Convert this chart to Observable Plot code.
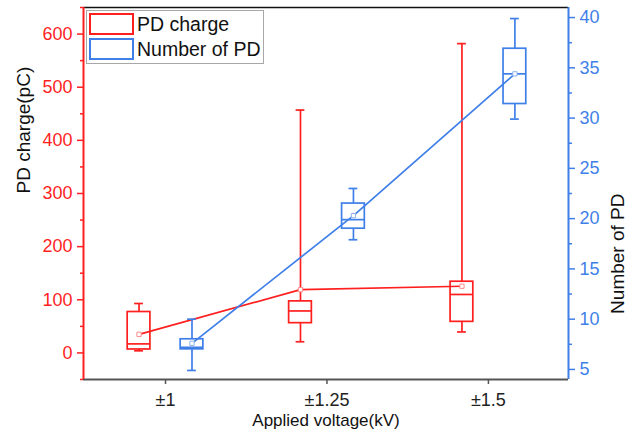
<!DOCTYPE html>
<html><head><meta charset="utf-8">
<script src="https://cdn.jsdelivr.net/npm/d3@7"></script>
<script src="https://cdn.jsdelivr.net/npm/@observablehq/plot@0.6"></script>
<style>
body{margin:0;background:#fff;font-family:"Liberation Sans",Arial,sans-serif}
#wrap{position:relative;width:641px;height:438px;overflow:hidden}
#legend{position:absolute;left:86px;top:10px;width:176px;height:52px;border:1px solid #a8a8a8;background:transparent}
.item{position:absolute;left:2px;height:22px;display:flex;align-items:center}
.sw{width:41px;height:18px;border:2px solid;box-sizing:content-box}
.lab{margin-left:3px;font-size:19.5px;color:#111;line-height:22px;white-space:nowrap}
</style></head><body>
<div id="wrap"><div id="legend"></div></div>
<script>
const voltages = [1, 1.25, 1.5];
const voltageLabels = ["±1", "±1.25", "±1.5"];
const seriesNames = ["PD charge", "Number of PD"];

// PD charge (pC), left axis
const chargeMin = [4, 21, 39.5];
const chargeQ1 = [6.5, 56, 58.5];
const chargeMedian = [17, 79, 110];
const chargeQ3 = [77, 97, 134];
const chargeMax = [93, 457, 582];
const chargeMean = [35, 119, 125.5];

// Number of PD, right axis
const countMin = [4.9, 17.9, 29.9];
const countQ1 = [7, 19, 31.4];
const countMedian = [7.2, 19.9, 34.4];
const countQ3 = [8, 21.5, 36.9];
const countMax = [10, 23, 39.9];
const countMean = [7.6, 20.3, 34.4];

const leftTicks = [0, 100, 200, 300, 400, 500, 600];
const leftMinor = [-50, 50, 150, 250, 350, 450, 550, 650];
const rightTicks = [5, 10, 15, 20, 25, 30, 35, 40];
const rightMinor = [7.5, 12.5, 17.5, 22.5, 27.5, 32.5, 37.5];

const RED = "#ff1f1f", RED_MEAN = "#ff8a8a";
const BLUE = "#3f7fe8", BLUE_MEAN = "#8fb2f0";
const X0 = 0.873, X1 = 1.624, Y0 = -50, Y1 = 650, R0 = 4, R1 = 41;
const toLeft = v => Y0 + (v - R0) * (Y1 - Y0) / (R1 - R0);
const fromLeft = y => R0 + (y - Y0) * (R1 - R0) / (Y1 - Y0);
const OFF = 0.041, HW = 0.0176, CW = 0.0068;

const charge = voltages.map((v, i) => ({x: v - OFF, min: chargeMin[i], q1: chargeQ1[i], median: chargeMedian[i], q3: chargeQ3[i], max: chargeMax[i], mean: chargeMean[i]}));
const count = voltages.map((v, i) => ({x: v + OFF, min: toLeft(countMin[i]), q1: toLeft(countQ1[i]), median: toLeft(countMedian[i]), q3: toLeft(countQ3[i]), max: toLeft(countMax[i]), mean: toLeft(countMean[i])}));

function boxMarks(rows, color, meanColor) {
  const sw = 1.7;
  return [
    Plot.ruleX(rows, {x: "x", y1: "min", y2: "q1", stroke: color, strokeWidth: sw}),
    Plot.ruleX(rows, {x: "x", y1: "q3", y2: "max", stroke: color, strokeWidth: sw}),
    Plot.ruleY(rows, {y: "min", x1: d => d.x - CW, x2: d => d.x + CW, stroke: color, strokeWidth: sw}),
    Plot.ruleY(rows, {y: "max", x1: d => d.x - CW, x2: d => d.x + CW, stroke: color, strokeWidth: sw}),
    Plot.rect(rows, {x1: d => d.x - HW, x2: d => d.x + HW, y1: "q1", y2: "q3", fill: "none", stroke: color, strokeWidth: sw}),
    Plot.ruleY(rows, {y: "median", x1: d => d.x - HW, x2: d => d.x + HW, stroke: color, strokeWidth: sw}),
    Plot.line(rows, {x: "x", y: "mean", stroke: color, strokeWidth: 1.7}),
    Plot.dot(rows, {x: "x", y: "mean", symbol: "square", r: 2.4, stroke: meanColor, fill: "white", strokeWidth: 1})
  ];
}

const chart = Plot.plot({
  width: 641, height: 438,
  marginLeft: 83, marginRight: 73, marginTop: 7, marginBottom: 59,
  style: {fontFamily: '"Liberation Sans", Arial, sans-serif', background: "white", overflow: "visible"},
  x: {domain: [X0, X1]},
  y: {domain: [Y0, Y1]},
  marks: [
    Plot.axisY(leftTicks, {anchor: "left", tickSize: 6, tickPadding: 5, color: RED, fontSize: 18, strokeWidth: 1.5, label: null}),
    Plot.axisY(leftMinor, {anchor: "left", tickSize: 3, color: RED, fill: "none", strokeWidth: 1.5, label: null}),
    Plot.axisY(rightTicks.map(toLeft), {anchor: "right", tickSize: 6, tickPadding: 5, color: BLUE, fontSize: 18, strokeWidth: 1.5, label: null, tickFormat: d => String(Math.round(fromLeft(d)))}),
    Plot.axisY(rightMinor.map(toLeft), {anchor: "right", tickSize: 3, color: BLUE, fill: "none", strokeWidth: 1.5, label: null}),
    Plot.axisX(voltages, {tickSize: 5, tickPadding: 9, color: "#222", stroke: "#555", fontSize: 18, strokeWidth: 1.5, label: null, tickFormat: d => voltageLabels[voltages.indexOf(d)]}),
    ...boxMarks(charge, RED, RED_MEAN),
    ...boxMarks(count, BLUE, BLUE_MEAN),
    Plot.ruleY([Y1], {stroke: "#111", strokeWidth: 1.5}),
    Plot.ruleY([Y0], {stroke: "#555", strokeWidth: 2}),
    Plot.ruleX([X0], {stroke: RED, strokeWidth: 2}),
    Plot.ruleX([X1], {stroke: BLUE, strokeWidth: 2}),
    Plot.text(["Applied voltage(kV)"], {frameAnchor: "bottom", dy: 46, fontSize: 17, fill: "#111"}),
    Plot.text(["PD charge(pC)"], {frameAnchor: "left", rotate: -90, dx: -59.5, fontSize: 19, fill: "#111"}),
    Plot.text(["Number of PD"], {frameAnchor: "right", rotate: -90, dx: 49.5, fontSize: 19, fill: "#111"})
  ]
});
const wrap = document.getElementById("wrap");
wrap.insertBefore(chart, wrap.firstChild);

const legend = document.getElementById("legend");
[RED, BLUE].forEach((c, i) => {
  const item = document.createElement("div");
  item.className = "item";
  item.style.top = (2 + i * 25) + "px";
  const sw = document.createElement("div");
  sw.className = "sw";
  sw.style.borderColor = c;
  const lab = document.createElement("span");
  lab.className = "lab";
  lab.textContent = seriesNames[i];
  item.appendChild(sw); item.appendChild(lab);
  legend.appendChild(item);
});
</script>
</body></html>
